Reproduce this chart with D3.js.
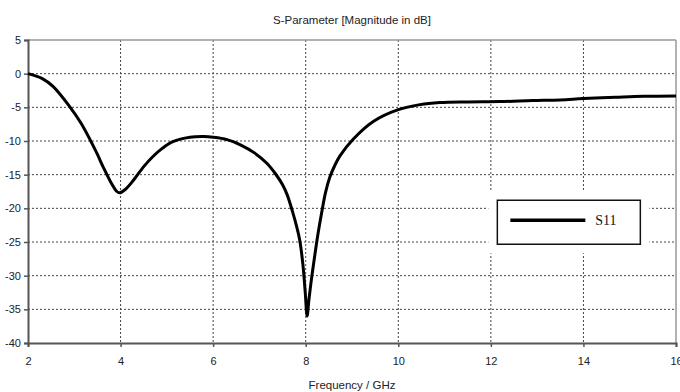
<!DOCTYPE html>
<html>
<head>
<meta charset="utf-8">
<script src="https://cdn.jsdelivr.net/npm/d3@7"></script>
<style>
  body { margin: 0; background: #fff; }
  text { font-family: "Liberation Sans", Arial, sans-serif; }
</style>
</head>
<body>
<div id="chart"></div>
<script>
// S11 curve
const freq = [2, 2.3, 2.54, 2.9, 3.15, 3.34, 3.5, 3.62, 3.78, 3.92, 3.98, 4.1, 4.27, 4.5, 4.7, 4.9, 5.13, 5.5, 5.8, 6.0,
  6.3, 6.6, 6.9, 7.16, 7.35, 7.5, 7.6, 7.72, 7.8, 7.87, 7.94, 7.99, 8.03, 8.07, 8.13, 8.2, 8.27, 8.34, 8.43, 8.52,
  8.63, 8.74, 9.03, 9.46, 10.0, 10.47, 10.9, 11.5, 12.2, 12.9, 13.5, 14.0, 14.7, 15.3, 16];
const s11 = [0, -0.7, -1.9, -4.9, -7.4, -9.8, -12, -13.8, -16, -17.5, -17.7, -17.2, -15.9, -13.8, -12.3, -11.1, -10.1, -9.45, -9.35, -9.45,
  -9.8, -10.6, -11.8, -13.3, -14.9, -16.5, -18.0, -20.6, -22.6, -24.7, -28.4, -32.5, -36, -33.5, -30.2, -26.8, -23.6, -20.8, -17.6, -15.4,
  -13.6, -12.2, -9.7, -7.1, -5.35, -4.6, -4.3, -4.2, -4.15, -4.0, -3.9, -3.7, -3.5, -3.35, -3.3];
const xTicks = [2, 4, 6, 8, 10, 12, 14, 16];
const yTicks = [5, 0, -5, -10, -15, -20, -25, -30, -35, -40];
const legendLabels = ["S11"];

const data = freq.map((f, i) => ({f: f, v: s11[i]}));

const W = 680, H = 392;
const margin = {top: 40, right: 4, bottom: 49, left: 28};
const width = W - margin.left - margin.right,
    height = H - margin.top - margin.bottom;

const svg = d3.select("#chart").append("svg")
    .attr("width", W)
    .attr("height", H);

const g = svg.append("g")
    .attr("transform", `translate(${margin.left},${margin.top})`);

const x = d3.scaleLinear().domain([2, 16]).range([0, width]);
const y = d3.scaleLinear().domain([-40, 5]).range([height, 0]);

// grid
g.append("g").selectAll("line")
  .data(xTicks.slice(1, -1))
  .join("line")
    .attr("x1", d => x(d)).attr("x2", d => x(d))
    .attr("y1", 0).attr("y2", height)
    .attr("stroke", "#444").attr("stroke-width", 1)
    .attr("stroke-dasharray", "2,2");
g.append("g").selectAll("line")
  .data(yTicks.slice(1, -1))
  .join("line")
    .attr("x1", 0).attr("x2", width)
    .attr("y1", d => y(d)).attr("y2", d => y(d))
    .attr("stroke", "#444").attr("stroke-width", 1)
    .attr("stroke-dasharray", "2,2");

// frame: top and right in light grey
g.append("line").attr("x1", 0).attr("x2", width).attr("y1", 0).attr("y2", 0)
  .attr("stroke", "#999").attr("stroke-width", 1.5);
g.append("line").attr("x1", width).attr("x2", width).attr("y1", 0).attr("y2", height)
  .attr("stroke", "#999").attr("stroke-width", 1.5);

// axes
const xAxis = g.append("g")
  .attr("transform", `translate(0,${height})`)
  .call(d3.axisBottom(x).tickValues(xTicks).tickFormat(d => String(d)).tickSize(4).tickPadding(10));
const yAxis = g.append("g")
  .call(d3.axisLeft(y).tickValues(yTicks).tickFormat(d => String(d)).tickSize(4).tickPadding(3));
[xAxis, yAxis].forEach(a => {
  a.select(".domain").attr("stroke", "#555").attr("stroke-width", 2);
  a.selectAll(".tick line").attr("stroke", "#555").attr("stroke-width", 1.5);
  a.selectAll(".tick text")
    .attr("fill", "#222")
    .style("font-family", "'Liberation Sans', Arial, sans-serif")
    .style("font-size", "11px");
});

// curve
g.append("path")
  .datum(data)
  .attr("fill", "none")
  .attr("stroke", "#000")
  .attr("stroke-width", 3)
  .attr("stroke-linejoin", "round")
  .attr("d", d3.line().x(d => x(d.f)).y(d => y(d.v)).curve(d3.curveCatmullRom.alpha(0.5)));

// legend
const lg = g.append("g").attr("transform", `translate(${x(12.14)},${y(-18.8)})`);
lg.append("rect").attr("x", -9).attr("y", -9).attr("width", 161).attr("height", 62).attr("fill", "#fff");
lg.append("rect").attr("x", 0).attr("y", 0).attr("width", 143).attr("height", 44)
  .attr("fill", "#fff").attr("stroke", "#111").attr("stroke-width", 1.5);
lg.selectAll("line.item").data(legendLabels).join("line")
  .attr("x1", 13).attr("x2", 88).attr("y1", 20).attr("y2", 20)
  .attr("stroke", "#000").attr("stroke-width", 3.5);
lg.selectAll("text.item").data(legendLabels).join("text")
  .attr("x", 98).attr("y", 25)
  .style("font-family", "'Liberation Serif', 'DejaVu Serif', serif")
  .style("font-size", "14px")
  .attr("fill", "#111")
  .text(d => d);

// titles
svg.append("text")
  .attr("x", margin.left + width / 2).attr("y", 24)
  .attr("text-anchor", "middle")
  .style("font-size", "11.5px").attr("fill", "#222")
  .text("S-Parameter [Magnitude in dB]");
svg.append("text")
  .attr("x", margin.left + width / 2).attr("y", 389)
  .attr("text-anchor", "middle")
  .style("font-size", "11.5px").attr("fill", "#222")
  .text("Frequency / GHz");
</script>
</body>
</html>
